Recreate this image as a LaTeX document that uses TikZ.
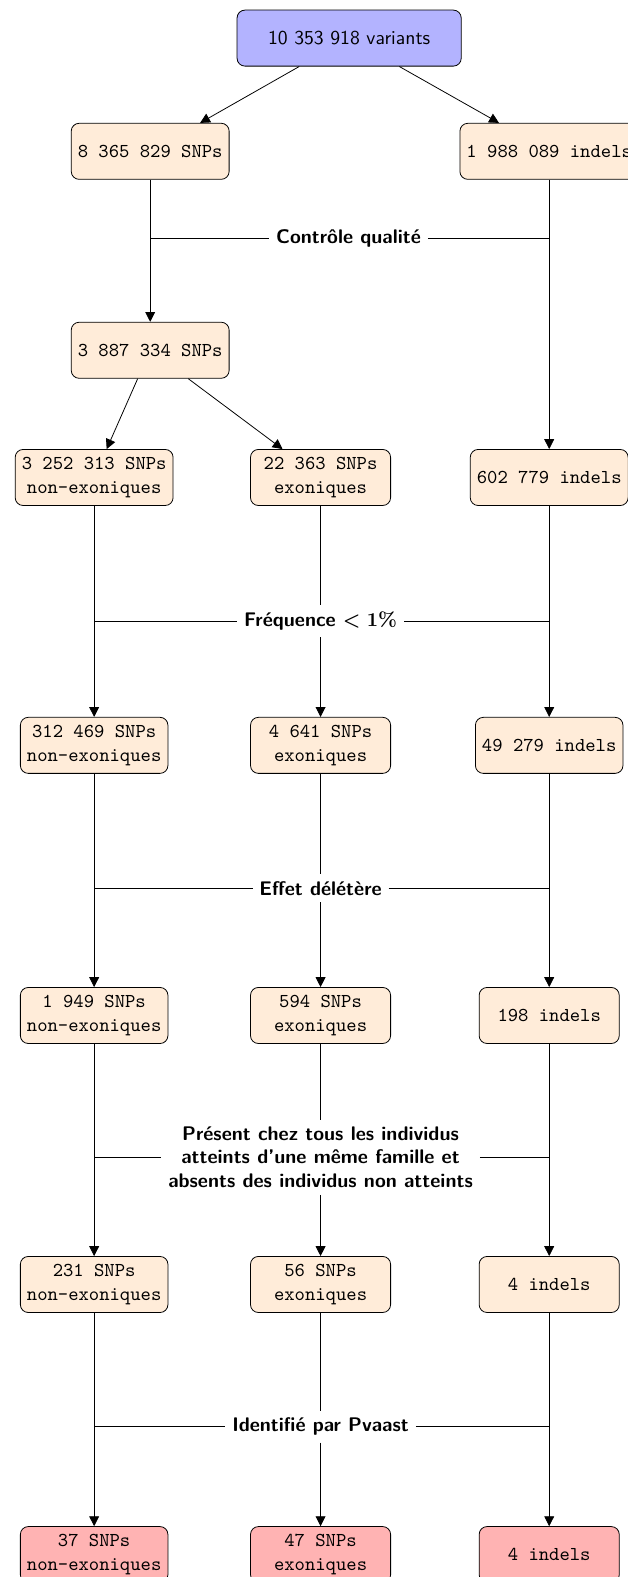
\documentclass[tikz,border=0pt]{standalone}
\definecolor{varblue}{RGB}{179, 179, 255}
\definecolor{stepbeige}{RGB}{255, 236, 217}
\definecolor{finalred}{RGB}{255, 179, 179}
\usepackage{tikz}
\usetikzlibrary{arrows.meta, positioning, calc}
\usepackage{amsmath, amssymb}

\begin{document}
\begin{tikzpicture}[
  box/.style={draw, rounded corners=4pt, minimum width=2.5cm, minimum height=1cm, align=center, font=\ttfamily, fill=stepbeige},
  filt/.style={font=\sffamily\bfseries\boldmath, align=center},
  arr/.style={-{Triangle[length=5pt, width=5pt]}}
]
  \useasboundingbox (0, 0) rectangle (11.19, -28.14);

  \node[box, fill=varblue, minimum width=4cm, font=\sffamily] (variants) at (6.23, -0.68) {10 353 918 variants};
  \node[box] (snpall) at (2.68, -2.70) {8 365 829 SNPs};
  \node[box] (indall) at (9.80, -2.70) {1 988 089 indels};
  \node[box] (snpqc) at (2.68, -6.25) {3 887 334 SNPs};

  \node[box] (nonex1) at (1.68, -8.52) {3 252 313 SNPs\\non-exoniques};
  \node[box] (exo1) at (5.72, -8.52) {22 363 SNPs\\exoniques};
  \node[box] (ind1) at (9.80, -8.52) {602 779 indels};

  \node[box] (nonex2) at (1.68, -13.30) {312 469 SNPs\\non-exoniques};
  \node[box] (exo2) at (5.72, -13.30) {4 641 SNPs\\exoniques};
  \node[box] (ind2) at (9.80, -13.30) {49 279 indels};

  \node[box] (nonex3) at (1.68, -18.12) {1 949 SNPs\\non-exoniques};
  \node[box] (exo3) at (5.72, -18.12) {594 SNPs\\exoniques};
  \node[box] (ind3) at (9.80, -18.12) {198 indels};

  \node[box] (nonex4) at (1.68, -22.92) {231 SNPs\\non-exoniques};
  \node[box] (exo4) at (5.72, -22.92) {56 SNPs\\exoniques};
  \node[box] (ind4) at (9.80, -22.92) {4 indels};

  \node[box, fill=finalred] (nonex5) at (1.68, -27.74) {37 SNPs\\non-exoniques};
  \node[box, fill=finalred] (exo5) at (5.72, -27.74) {47 SNPs\\exoniques};
  \node[box, fill=finalred] (ind5) at (9.80, -27.74) {4 indels};

  % filtres
  \node[filt] (qc) at (6.22, -4.25) {Contrôle qualité};
  \node[filt] (freq) at (5.72, -11.08) {Fréquence $<1\%$};
  \node[filt] (effet) at (5.72, -15.85) {Effet délétère};
  \node[filt] (famille) at (5.72, -20.65) {Présent chez tous les individus\\atteints d'une même famille et\\absents des individus non atteints};
  \node[filt] (pvaast) at (5.72, -25.46) {Identifié par Pvaast};

  \draw[arr] (variants) -- (snpall);
  \draw[arr] (variants) -- (indall);
  \draw[arr] (snpall) -- (snpqc);
  \draw[arr] (indall) -- (ind1);
  \draw (snpall |- qc) -- (qc) -- (indall |- qc);
  \draw[arr] (snpqc) -- (nonex1);
  \draw[arr] (snpqc) -- (exo1);

  \draw[arr] (nonex1) -- (nonex2);
  \draw[arr] (exo1) -- (freq) -- (exo2);
  \draw[arr] (ind1) -- (ind2);
  \draw (nonex1 |- freq) -- (freq) -- (ind1 |- freq);

  \draw[arr] (nonex2) -- (nonex3);
  \draw[arr] (exo2) -- (effet) -- (exo3);
  \draw[arr] (ind2) -- (ind3);
  \draw (nonex2 |- effet) -- (effet) -- (ind2 |- effet);

  \draw[arr] (nonex3) -- (nonex4);
  \draw[arr] (exo3) -- (famille) -- (exo4);
  \draw[arr] (ind3) -- (ind4);
  \draw (nonex3 |- famille) -- (famille) -- (ind3 |- famille);

  \draw[arr] (nonex4) -- (nonex5);
  \draw[arr] (exo4) -- (pvaast) -- (exo5);
  \draw[arr] (ind4) -- (ind5);
  \draw (nonex4 |- pvaast) -- (pvaast) -- (ind4 |- pvaast);
\end{tikzpicture}
\end{document}
